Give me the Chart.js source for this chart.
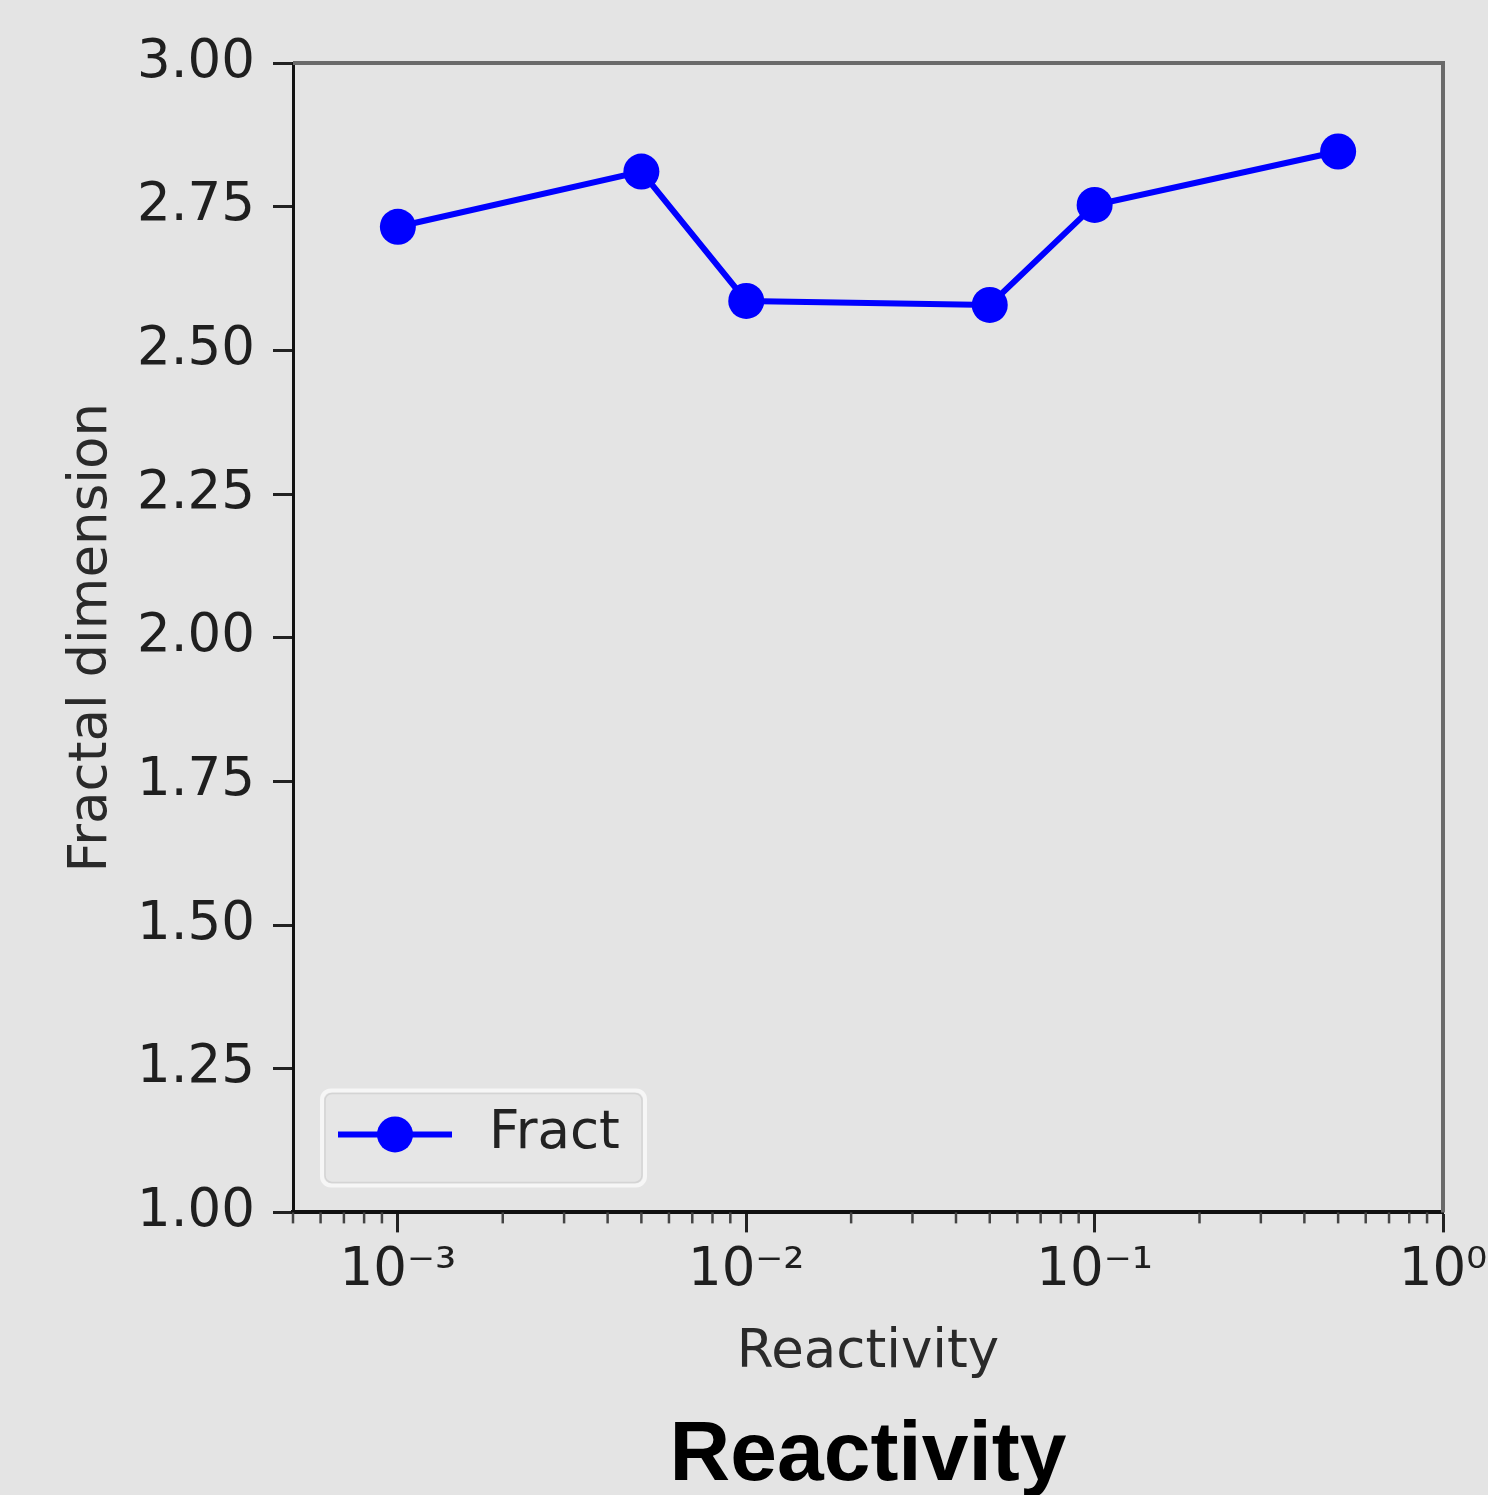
<!DOCTYPE html>
<html><head><meta charset="utf-8">
<script src="https://cdn.jsdelivr.net/npm/chart.js@4"></script>
<style>html,body{margin:0;padding:0;background:#e4e4e4;overflow:hidden}#wrap{width:1488px;height:1495px}</style>
</head><body><div id="wrap"><canvas id="c" width="1488" height="1495"></canvas></div>
<script>
const reactivity = [0.001, 0.005, 0.01, 0.05, 0.1, 0.5];
const fractalDim = [2.715, 2.811, 2.586, 2.579, 2.753, 2.846];
const seriesName = 'Fract';
const yTickValues = [1.00, 1.25, 1.50, 1.75, 2.00, 2.25, 2.50, 2.75, 3.00];
const xMajorValues = [0.001, 0.01, 0.1, 1];
const xTickLabels = ['10⁻³', '10⁻²', '10⁻¹', '10⁰'];
const xRange = [0.0005, 1];
const xTitle = 'Reactivity';
const yTitle = 'Fractal dimension';
const bottomTitle = 'Reactivity';

const BG = '#e4e4e4';
const TICK_FONT = {family: '"DejaVu Sans", sans-serif', size: 53};
const TITLE_FONT = {family: '"DejaVu Sans", sans-serif', size: 53};

function majorIndex(v) {
  for (let i = 0; i < xMajorValues.length; i++) {
    if (Math.abs(Math.log10(v) - Math.log10(xMajorValues[i])) < 1e-6) return i;
  }
  return -1;
}

const bgPlugin = {
  id: 'bg',
  beforeDraw(chart) {
    const ctx = chart.ctx;
    ctx.save();
    ctx.fillStyle = BG;
    ctx.fillRect(0, 0, chart.width, chart.height);
    ctx.restore();
  }
};

const framePlugin = {
  id: 'frame',
  afterDraw(chart) {
    const ctx = chart.ctx, ca = chart.chartArea;
    ctx.save();
    ctx.strokeStyle = '#6a6a6a';
    ctx.lineWidth = 4;
    ctx.beginPath();
    ctx.moveTo(ca.left, ca.top); ctx.lineTo(ca.right, ca.top); ctx.lineTo(ca.right, ca.bottom);
    ctx.stroke();
    const xs = chart.scales.x;
    ctx.strokeStyle = '#444';
    ctx.lineWidth = 2.5;
    xs.ticks.forEach(t => {
      if (majorIndex(t.value) >= 0) return;
      const px = xs.getPixelForValue(t.value);
      ctx.beginPath();
      ctx.moveTo(px, ca.bottom); ctx.lineTo(px, ca.bottom + 11);
      ctx.stroke();
    });
    ctx.restore();
  }
};

const legendPlugin = {
  id: 'innerLegend',
  afterDraw(chart) {
    const ctx = chart.ctx, ca = chart.chartArea;
    const ds = chart.data.datasets[0];
    const bx = ca.left + 29, by = ca.bottom - 122, bw = 323, bh = 95, r = 9;
    ctx.save();
    ctx.beginPath();
    ctx.roundRect(bx, by, bw, bh, r);
    ctx.fillStyle = '#e6e6e6';
    ctx.fill();
    ctx.lineWidth = 4;
    ctx.strokeStyle = '#f6f6f6';
    ctx.stroke();
    ctx.beginPath();
    ctx.roundRect(bx + 3, by + 3, bw - 6, bh - 6, r - 2);
    ctx.lineWidth = 1.5;
    ctx.strokeStyle = '#d4d4d4';
    ctx.stroke();
    const cy = by + 44;
    ctx.strokeStyle = ds.borderColor;
    ctx.lineWidth = ds.borderWidth;
    ctx.beginPath();
    ctx.moveTo(bx + 16, cy); ctx.lineTo(bx + 130, cy);
    ctx.stroke();
    ctx.fillStyle = ds.pointBackgroundColor;
    ctx.beginPath();
    ctx.arc(bx + 73, cy, ds.pointRadius, 0, Math.PI * 2);
    ctx.fill();
    ctx.fillStyle = '#222';
    ctx.font = TICK_FONT.size + 'px ' + TICK_FONT.family;
    ctx.textBaseline = 'middle';
    ctx.textAlign = 'left';
    ctx.fillText(ds.label, bx + 167, cy);
    ctx.restore();
  }
};

new Chart(document.getElementById('c'), {
  type: 'line',
  data: {
    datasets: [{
      label: seriesName,
      data: reactivity.map((x, i) => ({x: x, y: fractalDim[i]})),
      borderColor: '#0000ff',
      backgroundColor: '#0000ff',
      pointBackgroundColor: '#0000ff',
      pointBorderWidth: 0,
      pointRadius: 18,
      borderWidth: 6,
      tension: 0,
      clip: false
    }]
  },
  options: {
    responsive: false,
    devicePixelRatio: 1,
    animation: false,
    events: [],
    layout: {padding: {left: 0, top: 63, right: 45, bottom: 0}},
    plugins: {
      legend: {display: false},
      tooltip: {enabled: false},
      title: {
        display: true,
        position: 'bottom',
        fullSize: false,
        text: bottomTitle,
        color: '#000',
        font: {family: '"Liberation Sans", Arial, sans-serif', size: 84, weight: 'bold', lineHeight: 0.9},
        padding: {top: 0, bottom: 0}
      }
    },
    scales: {
      x: {
        type: 'logarithmic',
        min: xRange[0],
        max: xRange[1],
        afterBuildTicks(scale) {
          const ticks = [];
          for (let e = -4; e <= 0; e++) {
            for (let k = 1; k <= 9; k++) {
              const v = k * Math.pow(10, e);
              if (v >= xRange[0] * 0.999 && v <= xRange[1] * 1.001) ticks.push({value: v, major: k === 1});
            }
          }
          scale.ticks = ticks;
        },
        afterFit(scale) {
          scale.height = 1495 - 1212 - 76;
          scale.paddingLeft = 0; scale.paddingRight = 0;
        },
        grid: {
          display: true,
          drawOnChartArea: false,
          drawTicks: true,
          tickLength: 20,
          tickWidth: 3,
          tickColor: (ctx) => (ctx.tick && majorIndex(ctx.tick.value) >= 0) ? '#222' : 'rgba(0,0,0,0)'
        },
        border: {display: true, color: '#111', width: 4},
        ticks: {
          autoSkip: false,
          maxRotation: 0,
          minRotation: 0,
          padding: 7,
          color: '#1f1f1f',
          font: TICK_FONT,
          callback: (v) => { const i = majorIndex(v); return i >= 0 ? xTickLabels[i] : ''; }
        },
        title: {
          display: true,
          text: xTitle,
          color: '#2a2a2a',
          font: TITLE_FONT,
          padding: {top: 0, bottom: 34}
        }
      },
      y: {
        type: 'linear',
        min: yTickValues[0],
        max: yTickValues[yTickValues.length - 1],
        afterBuildTicks(scale) {
          scale.ticks = yTickValues.map(v => ({value: v}));
        },
        afterFit(scale) {
          scale.width = 293;
          scale.paddingTop = 0; scale.paddingBottom = 0;
        },
        grid: {
          display: true,
          drawOnChartArea: false,
          drawTicks: true,
          tickLength: 20,
          tickWidth: 3,
          tickColor: '#222'
        },
        border: {display: true, color: '#111', width: 3},
        ticks: {
          padding: 18,
          color: '#1f1f1f',
          font: TICK_FONT,
          callback: (v) => Number(v).toFixed(2)
        },
        title: {
          display: true,
          text: yTitle,
          color: '#2a2a2a',
          font: TITLE_FONT,
          padding: {top: 60, bottom: 0}
        }
      }
    }
  },
  plugins: [bgPlugin, framePlugin, legendPlugin]
});
</script>
</body></html>
